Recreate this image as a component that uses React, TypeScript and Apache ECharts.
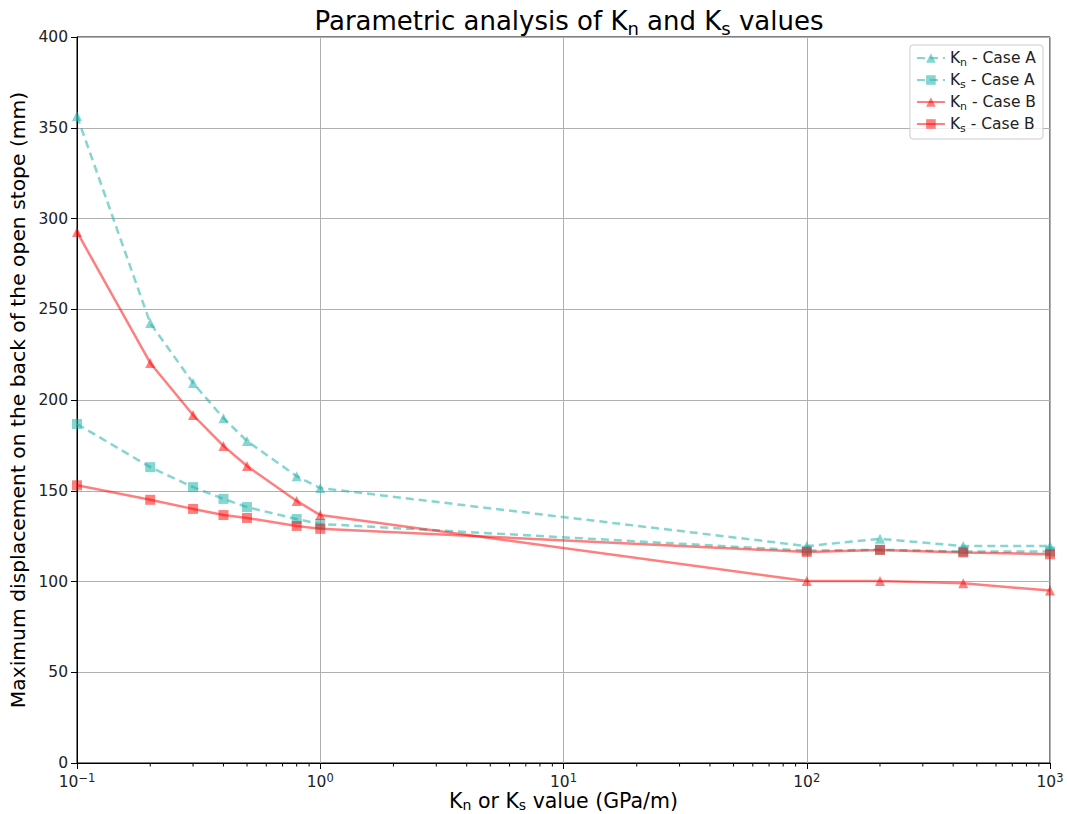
import React, { useEffect, useRef } from "react";
import * as echarts from "echarts";

const xValues = [0.1, 0.2, 0.3, 0.4, 0.5, 0.8, 1, 100, 200, 440, 1000];
const knCaseA = [356.5, 242.4, 209.4, 190, 177.4, 158, 151.5, 119.5, 123.5, 119.5, 119.5];
const ksCaseA = [186.8, 163, 152, 145.5, 141, 134.4, 131.7, 117, 117.5, 116.5, 116.5];
const knCaseB = [292.6, 220.4, 191.7, 174.7, 163.6, 144.4, 136.6, 100.3, 100.3, 99, 95];
const ksCaseB = [153, 145, 140, 136.6, 135, 130.6, 129, 116.3, 117.4, 116, 115];
const minorTickValues = [
  0.2, 0.3, 0.4, 0.5, 0.6, 0.7, 0.8, 0.9,
  2, 3, 4, 5, 6, 7, 8, 9,
  20, 30, 40, 50, 60, 70, 80, 90,
  200, 300, 400, 500, 600, 700, 800, 900,
];

const TEAL = "rgba(32,178,170,0.55)";
const RED = "rgba(255,0,0,0.5)";
const FONT = "DejaVu Sans";

function pair(ys: number[]) {
  return xValues.map((x, i) => [x, ys[i]]);
}

export default function App() {
  const ref = useRef<HTMLDivElement>(null);
  useEffect(() => {
    if (!ref.current) return;
    const chart = echarts.init(ref.current, undefined, { renderer: "svg" });
    const subRich = {
      n: { fontSize: 26, fontFamily: FONT, fontWeight: "normal", color: "#000" },
      sub: { fontSize: 18, fontFamily: FONT, fontWeight: "normal", color: "#000", padding: [14, 0, 0, 0] },
    };
    const legendRich = {
      n: { fontSize: 15.5, fontFamily: FONT, color: "#222" },
      sub: { fontSize: 11, fontFamily: FONT, color: "#222", padding: [9, 0, 0, 0] },
    };
    chart.setOption({
      animation: false,
      title: {
        text: "{n|Parametric analysis of K}{sub|n}{n| and K}{sub|s}{n| values}",
        left: 564,
        textAlign: "center",
        top: 0,
        textStyle: { fontWeight: "normal", rich: subRich },
      },
      legend: {
        right: 24,
        top: 45,
        orient: "vertical",
        itemWidth: 28,
        itemHeight: 12,
        itemGap: 4,
        backgroundColor: "rgba(255,255,255,0.8)",
        borderColor: "#ccc",
        borderWidth: 1,
        borderRadius: 3,
        padding: [5, 7, 5, 6],
        data: ["knA", "ksA", "knB", "ksB"],
        formatter: (name: string) => {
          const map: Record<string, string> = {
            knA: "{n|K}{sub|n}{n| - Case A}",
            ksA: "{n|K}{sub|s}{n| - Case A}",
            knB: "{n|K}{sub|n}{n| - Case B}",
            ksB: "{n|K}{sub|s}{n| - Case B}",
          };
          return map[name];
        },
        textStyle: { rich: legendRich },
      },
      grid: {
        left: 77,
        right: 17,
        top: 37,
        bottom: 51,
        outerBoundsMode: "none",
        containLabel: false,
        show: true,
        borderColor: "#000",
        borderWidth: 1,
        backgroundColor: "transparent",
      },
      xAxis: {
        type: "log",
        logBase: 10,
        min: 0.1,
        max: 1000,
        name: "{n|K}{sub|n}{n| or K}{sub|s}{n| value (GPa/m)}",
        nameLocation: "middle",
        nameGap: 27,
        nameMoveOverlap: false,
        nameTextStyle: {
          rich: {
            n: { fontSize: 20.5, fontFamily: FONT, color: "#000" },
            sub: { fontSize: 14, fontFamily: FONT, color: "#000", padding: [8, 0, 0, 0] },
          },
        },
        axisLine: { show: true, lineStyle: { color: "#000", width: 1 } },
        axisTick: { show: true, inside: false, length: 6, lineStyle: { color: "#000" } },
        axisLabel: {
          margin: 9,
          formatter: (v: number) => {
            const e = Math.round(Math.log10(v));
            return "{b|10}{e|" + (e < 0 ? "\u2212" + -e : String(e)) + "}";
          },
          rich: {
            b: { fontSize: 15.5, fontFamily: FONT, color: "#222" },
            e: { fontSize: 11.5, fontFamily: FONT, color: "#222", padding: [0, 0, 7, 0] },
          },
        },
        splitLine: { show: true, lineStyle: { color: "#b0b0b0", width: 1 } },
      },
      yAxis: {
        type: "value",
        min: 0,
        max: 400,
        interval: 50,
        name: "Maximum displacement on the back of the open stope (mm)",
        nameLocation: "middle",
        nameGap: 49,
        nameMoveOverlap: false,
        nameTextStyle: { fontSize: 20.3, fontFamily: FONT, color: "#000" },
        axisLine: { show: true, lineStyle: { color: "#000", width: 1 } },
        axisTick: { show: true, inside: false, length: 6, lineStyle: { color: "#000" } },
        axisLabel: { fontSize: 15.5, fontFamily: FONT, color: "#222", margin: 9 },
        splitLine: { show: true, lineStyle: { color: "#b0b0b0", width: 1 } },
      },
      series: [
        {
          name: "knA",
          type: "line",
          data: pair(knCaseA),
          symbol: "triangle",
          symbolSize: 10,
          lineStyle: { color: TEAL, width: 2.5, type: [8, 5] },
          itemStyle: { color: TEAL },
        },
        {
          name: "ksA",
          type: "line",
          data: pair(ksCaseA),
          symbol: "rect",
          symbolSize: 10,
          lineStyle: { color: TEAL, width: 2.5, type: [8, 5] },
          itemStyle: { color: TEAL },
        },
        {
          name: "knB",
          type: "line",
          data: pair(knCaseB),
          symbol: "triangle",
          symbolSize: 10,
          lineStyle: { color: RED, width: 2.5 },
          itemStyle: { color: RED },
        },
        {
          name: "ksB",
          type: "line",
          data: pair(ksCaseB),
          symbol: "rect",
          symbolSize: 10,
          lineStyle: { color: RED, width: 2.5 },
          itemStyle: { color: RED },
        },
        {
          name: "minorTicks",
          type: "custom",
          silent: true,
          clip: false,
          data: minorTickValues.map((v) => [v, 0]),
          renderItem: (_params: any, api: any) => {
            const p = api.coord([api.value(0), 0]);
            return {
              type: "line",
              shape: { x1: p[0], y1: p[1], x2: p[0], y2: p[1] + 3.5 },
              style: { stroke: "#000", lineWidth: 1 },
            };
          },
        },
      ],
    });
    return () => chart.dispose();
  }, []);
  return <div ref={ref} style={{ width: 1067, height: 814, position: "absolute", left: 0, top: 0, background: "#fff" }} />;
}
